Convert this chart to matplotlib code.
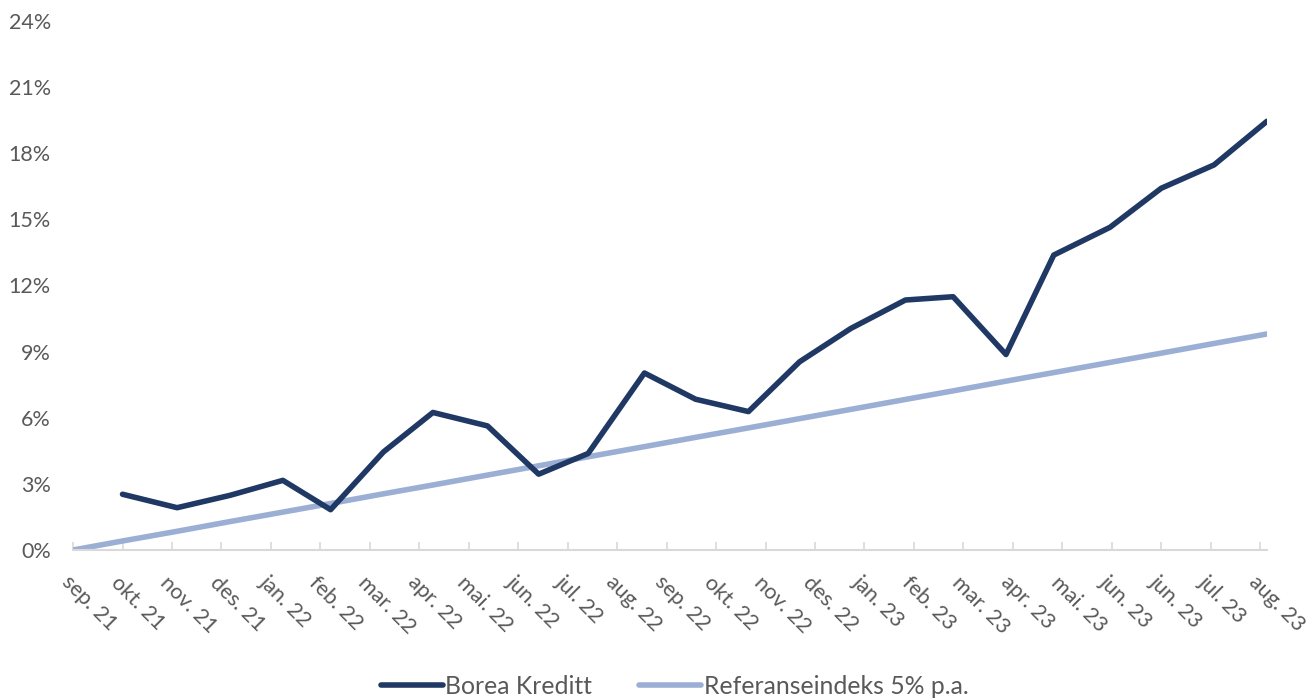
import datetime as dt
import matplotlib
matplotlib.use("Agg")
import matplotlib.pyplot as plt
from matplotlib.ticker import FuncFormatter
from matplotlib.transforms import ScaledTranslation

plt.rcParams['font.family'] = ['Lato', 'DejaVu Sans']

# month-end dates (last business day) sep 21 .. aug 23
dates = ['2021-09-30', '2021-10-29', '2021-11-30', '2021-12-31', '2022-01-31',
         '2022-02-28', '2022-03-31', '2022-04-29', '2022-05-31', '2022-06-30',
         '2022-07-29', '2022-08-31', '2022-09-30', '2022-10-31', '2022-11-30',
         '2022-12-30', '2023-01-31', '2023-02-28', '2023-03-31', '2023-04-28',
         '2023-05-31', '2023-06-30', '2023-07-31', '2023-08-31']
dates = [dt.datetime.strptime(d, '%Y-%m-%d') for d in dates]

# Borea Kreditt starts one month later
borea = [2.53, 1.92, 2.48, 3.16, 1.83, 4.45, 6.24, 5.63, 3.44, 4.38, 8.03,
         6.84, 6.28, 8.54, 10.05, 11.34, 11.49, 8.87, 13.38, 14.64, 16.41,
         17.47, 19.45]
referanse = [0.0, 0.41, 0.85, 1.29, 1.72, 2.11, 2.55, 2.95, 3.40, 3.82, 4.23,
             4.69, 5.11, 5.54, 5.96, 6.38, 6.83, 7.22, 7.66, 8.05, 8.51,
             8.93, 9.37, 9.80]

mnd = ['jan', 'feb', 'mar', 'apr', 'mai', 'jun', 'jul', 'aug', 'sep', 'okt', 'nov', 'des']
tick_step_days = 29  # axis major unit used in the original chart
y_ticks = [0, 3, 6, 9, 12, 15, 18, 21, 24]

grey = '#595959'

fig = plt.figure(figsize=(13.14, 6.98), dpi=100)
ax = fig.add_axes([0.0556, 0.212, 0.9086, 0.758])

ax.plot(dates[1:], borea, color='#1f3864', lw=4, solid_capstyle='round',
        solid_joinstyle='round', label='Borea Kreditt', zorder=3)
ax.plot(dates, referanse, color='#9bafd5', lw=4, solid_capstyle='round',
        label='Referanseindeks 5% p.a.', zorder=2)

ax.set_xlim(dates[0], dates[-1])
ax.set_ylim(0, 24)

ticks = [dates[0] + dt.timedelta(days=tick_step_days * k) for k in range(25)]
ax.set_xticks(ticks)
ax.set_xticklabels([f'{mnd[t.month - 1]}. {t.strftime("%y")}' for t in ticks])
ax.set_yticks(y_ticks)
ax.yaxis.set_major_formatter(FuncFormatter(lambda v, p: f'{v:.0f}%'))

for s in ['top', 'right', 'left']:
    ax.spines[s].set_visible(False)
ax.spines['bottom'].set_color('#d9d9d9')
ax.spines['bottom'].set_linewidth(1.5)

ax.tick_params(axis='x', direction='in', length=6, width=1.2, color='#d9d9d9',
               labelsize=15.5, labelcolor=grey, pad=16)
ax.tick_params(axis='y', length=0, labelsize=15.5, labelcolor=grey, pad=16)

offset = ScaledTranslation(-1 / 72, 0, fig.dpi_scale_trans)
for lab in ax.get_xticklabels():
    lab.set_rotation(-45)
    lab.set_ha('left')
    lab.set_va('top')
    lab.set_rotation_mode('anchor')
    lab.set_transform(lab.get_transform() + offset)

leg = ax.legend(loc='center', bbox_to_anchor=(0.504, -0.258), ncol=2, frameon=False,
                fontsize=17.8, handlelength=2.5, handletextpad=0.1, columnspacing=1.9)
for t in leg.get_texts():
    t.set_color(grey)

fig.savefig('out.png', dpi=100)
